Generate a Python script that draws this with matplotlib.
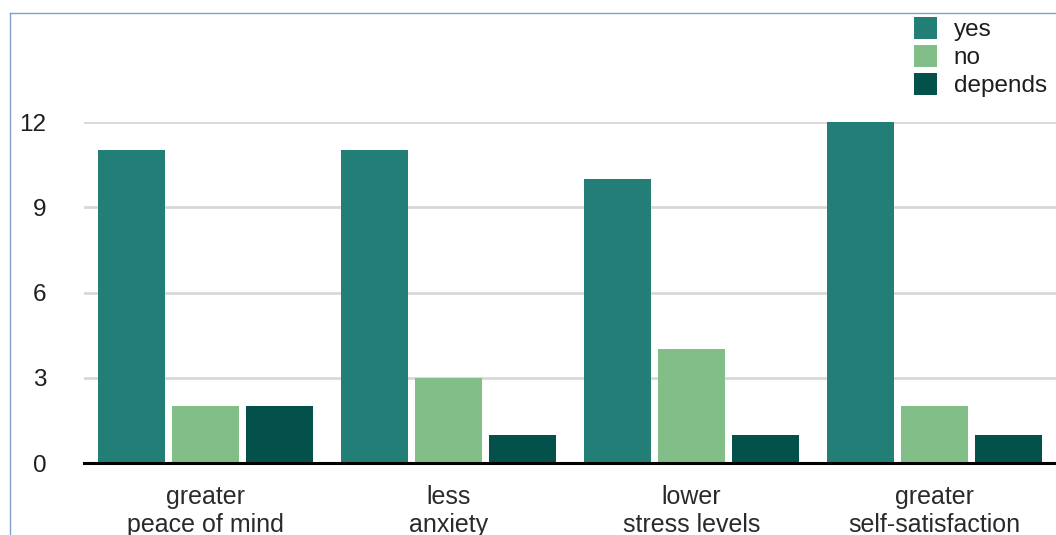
import numpy as np
import matplotlib.pyplot as plt
from matplotlib.patches import Patch
from matplotlib.lines import Line2D

plt.rcParams['font.family'] = ['Liberation Sans', 'DejaVu Sans']

### Data ###
benefits = ["greater\npeace of mind", "less\nanxiety", "lower\nstress levels", "greater\nself-satisfaction"]
answers = ["yes", "no", "depends"]
yes_counts = [11, 11, 10, 12]
no_counts = [2, 3, 4, 2]
depends_counts = [2, 1, 1, 1]
yticks = [0, 3, 6, 9, 12]

colors = ["#227e77", "#82bf88", "#04514b"]

### Plot ###
fig = plt.figure(figsize=(10.56, 5.35), dpi=100)
ax = fig.add_axes([84/1056, 72/535, 1 - 84/1056, 341/535])

x = np.arange(len(benefits))
w = 0.275
step = 0.306
for i, vals in enumerate([yes_counts, no_counts, depends_counts]):
    ax.bar(x + (i - 1) * step, vals, w, color=colors[i], zorder=3)

ax.set_xlim(-0.5, 3.5)
ax.set_ylim(0, 12)
ax.set_yticks(yticks)
ax.set_xticks(x)
ax.set_xticklabels(benefits, linespacing=1.22)
ax.grid(axis='y', color='#d8d8d8', linewidth=2, zorder=0)
ax.tick_params(axis='y', length=0, pad=27, labelsize=17.5, labelcolor='#1e1e1e')
ax.tick_params(axis='x', length=0, pad=16, labelsize=18, labelcolor='#2a2a2a')
for s in ['top', 'right', 'left']:
    ax.spines[s].set_visible(False)
ax.spines['bottom'].set_color('black')
ax.spines['bottom'].set_linewidth(2.2)
ax.spines['bottom'].set_zorder(4)

# legend in the top right corner
handles = [Patch(facecolor=c, label=l) for c, l in zip(colors, answers)]
fig.legend(handles=handles, loc='upper right', bbox_to_anchor=(1 + 3/1056, 1 - 5/535),
           frameon=False, fontsize=17.5, handlelength=0.95, handleheight=1.0,
           handletextpad=0.7, labelspacing=0.15, borderpad=0, labelcolor='#1e1e1e')

# thin border around the chart area
fig.add_artist(Line2D([10/1056, 10/1056], [0, 1 - 13/535], color='#7f9fcc', linewidth=1))
fig.add_artist(Line2D([10/1056, 1], [1 - 13/535, 1 - 13/535], color='#7f9fcc', linewidth=1))

plt.savefig("out.png", dpi=100)
